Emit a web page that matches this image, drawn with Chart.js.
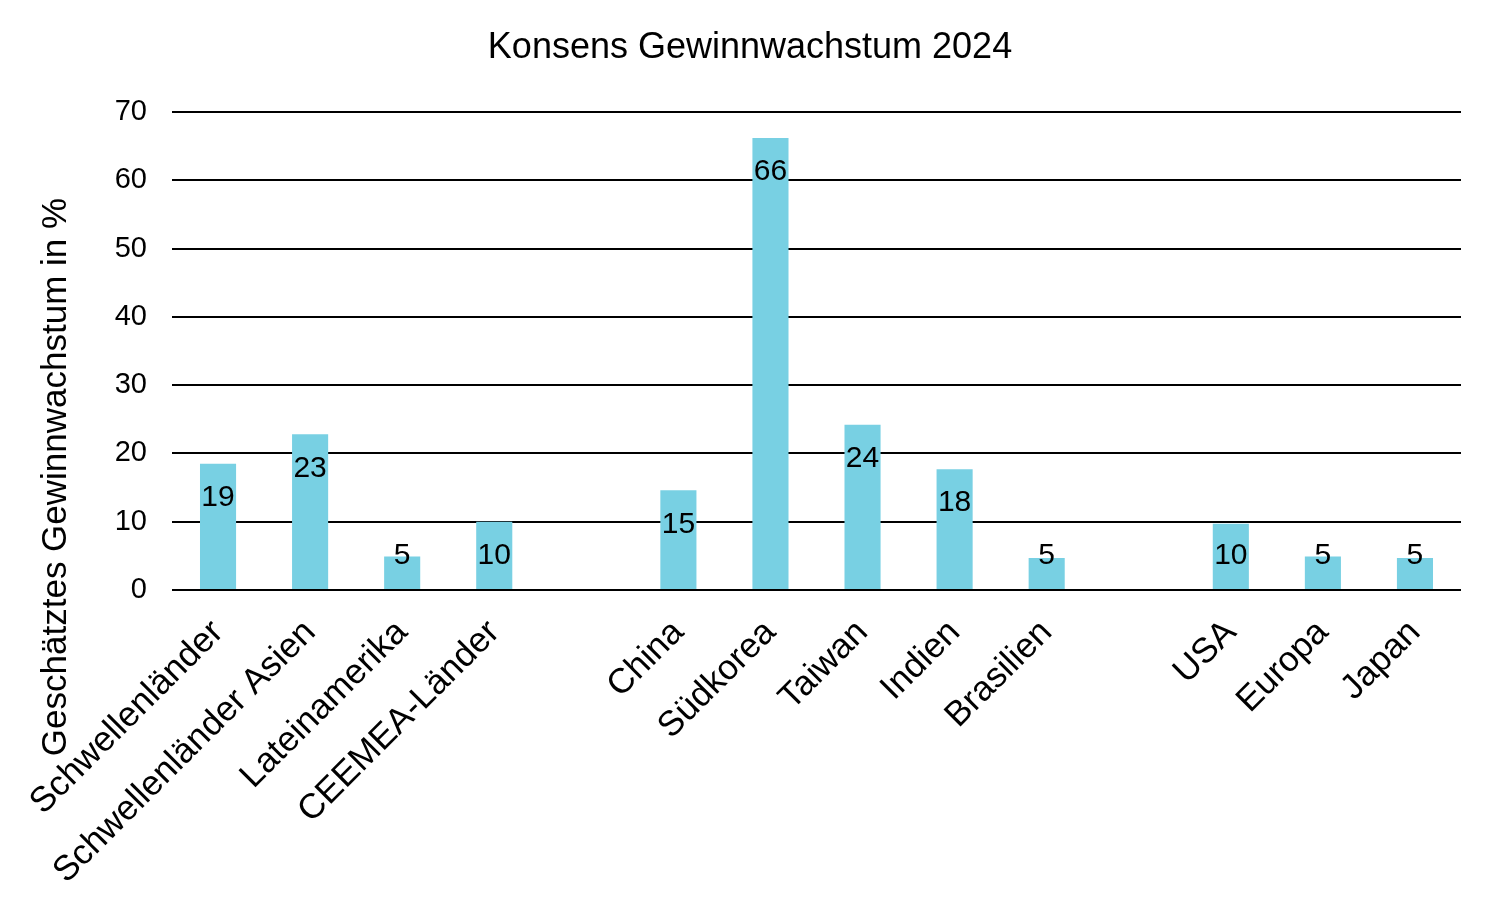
<!DOCTYPE html>
<html>
<head>
<meta charset="utf-8">
<script src="https://cdn.jsdelivr.net/npm/chart.js@4"></script>
<style>
  html, body { margin: 0; padding: 0; background: #fff; }
  #wrap { width: 1500px; height: 917px; position: relative; }
</style>
</head>
<body>
<div id="wrap"><canvas id="chart"></canvas></div>
<script>
// ============================================================
// DATA
// ============================================================
const categories = [
    'Schwellenländer', 'Schwellenländer Asien', 'Lateinamerika', 'CEEMEA-Länder', '',
    'China', 'Südkorea', 'Taiwan', 'Indien', 'Brasilien', '',
    'USA', 'Europa', 'Japan'
];
const growth = [18.5, 22.8, 4.9, 10.0, null, 14.6, 66.2, 24.2, 17.7, 4.7, null, 9.7, 4.9, 4.7];
const yTicks = [0, 10, 20, 30, 40, 50, 60, 70];

const chartTitle = 'Konsens Gewinnwachstum 2024';
const yTitle = 'Geschätztes Gewinnwachstum in %';
const FONT = '"Liberation Sans", Arial, sans-serif';

// ============================================================
// PLUGINS
// ============================================================
// value labels inside the bars, near the top
const barLabels = {
    id: 'barLabels',
    afterDatasetsDraw(chart) {
        const ctx = chart.ctx;
        const meta = chart.getDatasetMeta(0);
        ctx.save();
        ctx.font = '30px ' + FONT;
        ctx.fillStyle = '#000';
        ctx.textAlign = 'center';
        ctx.textBaseline = 'middle';
        meta.data.forEach((bar, i) => {
            const v = growth[i];
            if (v === null) return;
            const y = Math.min(bar.y + 34, bar.base - 33);
            ctx.fillText(String(Math.round(v)), bar.x, y);
        });
        ctx.restore();
    }
};

// chart title and y axis title
const titles = {
    id: 'titles',
    afterDraw(chart) {
        const ctx = chart.ctx;
        ctx.save();
        ctx.fillStyle = '#000';
        ctx.textAlign = 'center';
        ctx.textBaseline = 'middle';
        ctx.font = '36px ' + FONT;
        ctx.fillText(chartTitle, 750, 48);
        ctx.font = '35px ' + FONT;
        ctx.translate(56, 477);
        ctx.rotate(-Math.PI / 2);
        ctx.fillText(yTitle, 0, 0);
        ctx.restore();
    }
};

// ============================================================
// CHART
// ============================================================
const ctx = document.getElementById('chart').getContext('2d');
const chart = new Chart(ctx, {
    type: 'bar',
    data: {
        labels: categories,
        datasets: [{
            data: growth,
            backgroundColor: '#78D0E3',
            borderWidth: 0,
            barPercentage: 0.8,
            categoryPercentage: 0.49
        }]
    },
    options: {
        responsive: true,
        maintainAspectRatio: false,
        animation: false,
        layout: { padding: { top: 112, right: 39, left: 0, bottom: 0 } },
        plugins: { legend: { display: false }, tooltip: { enabled: false } },
        scales: {
            x: {
                grid: { display: false },
                border: { display: false },
                ticks: {
                    color: '#000',
                    font: { family: FONT, size: 35 },
                    maxRotation: 45, minRotation: 45,
                    autoSkip: false,
                    padding: 14
                },
                afterFit(scale) { scale.height = 327; }
            },
            y: {
                min: 0, max: 70,
                afterBuildTicks(scale) { scale.ticks = yTicks.map(v => ({ value: v })); },
                grid: { color: '#000', lineWidth: 2, drawTicks: false },
                border: { display: false },
                ticks: {
                    color: '#000',
                    font: { family: FONT, size: 29 },
                    padding: 25
                },
                afterFit(scale) { scale.width = 172; }
            }
        }
    },
    plugins: [barLabels, titles]
});
</script>
</body>
</html>
